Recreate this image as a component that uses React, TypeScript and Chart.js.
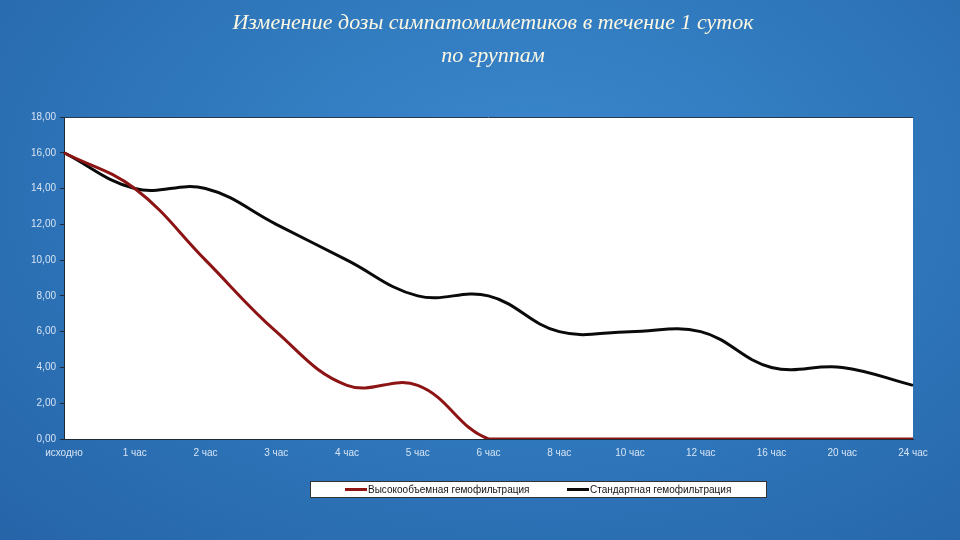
import React, { useEffect, useRef } from "react";
import { Chart, registerables } from "chart.js";

Chart.register(...registerables);

const titleLines = ["Изменение дозы симпатомиметиков в течение 1 суток", "по группам"];
const categories = ["исходно", "1 час", "2 час", "3 час", "4 час", "5 час", "6 час", "8 час", "10 час", "12 час", "16 час", "20 час", "24 час"];
const highVolume = [16, 14, 10, 6, 3, 3, 0, 0, 0, 0, 0, 0, 0];
const standard = [16, 14, 14, 12, 10, 8, 8, 6, 6, 6, 4, 4, 3];
const seriesLabels = ["Высокообъемная гемофильтрация", "Стандартная гемофильтрация"];
const seriesColors = ["#8c1414", "#0a0a0a"];
const yMin = 0;
const yMax = 18;
const yStep = 2;

const plotBgPlugin = {
  id: "plotBg",
  beforeDraw(chart: any) {
    const { ctx, chartArea } = chart;
    ctx.save();
    ctx.fillStyle = "#ffffff";
    ctx.fillRect(chartArea.left, chartArea.top, chartArea.right - chartArea.left, chartArea.bottom - chartArea.top);
    ctx.strokeStyle = "#2a3a4a";
    ctx.lineWidth = 1;
    ctx.beginPath();
    ctx.moveTo(chartArea.left, chartArea.top + 0.5);
    ctx.lineTo(chartArea.right, chartArea.top + 0.5);
    ctx.stroke();
    ctx.restore();
  },
};

const boxLegendPlugin = {
  id: "boxLegend",
  afterDraw(chart: any) {
    const { ctx } = chart;
    const bx = 310, by = 481, bw = 457, bh = 17;
    ctx.save();
    ctx.fillStyle = "#ffffff";
    ctx.fillRect(bx, by, bw, bh);
    ctx.strokeStyle = "#333333";
    ctx.lineWidth = 1;
    ctx.strokeRect(bx + 0.5, by + 0.5, bw - 1, bh - 1);
    const starts = [345, 567];
    ctx.font = "10px 'Liberation Sans', Arial, sans-serif";
    ctx.textBaseline = "middle";
    chart.data.datasets.forEach((ds: any, i: number) => {
      const x = starts[i];
      const y = by + bh / 2;
      ctx.strokeStyle = ds.borderColor;
      ctx.lineWidth = 3;
      ctx.beginPath();
      ctx.moveTo(x, y);
      ctx.lineTo(x + 22, y);
      ctx.stroke();
      ctx.fillStyle = "#111111";
      ctx.fillText(ds.label, x + 23, y + 0.5);
    });
    ctx.restore();
  },
};

export default function App() {
  const canvasRef = useRef<HTMLCanvasElement | null>(null);

  useEffect(() => {
    if (!canvasRef.current) return;
    const chart = new Chart(canvasRef.current, {
      type: "line",
      data: {
        labels: categories,
        datasets: [
          {
            label: seriesLabels[0],
            data: highVolume,
            borderColor: seriesColors[0],
            backgroundColor: seriesColors[0],
            borderWidth: 3,
            pointRadius: 0,
            tension: 0.4,
            fill: false,
          },
          {
            label: seriesLabels[1],
            data: standard,
            borderColor: seriesColors[1],
            backgroundColor: seriesColors[1],
            borderWidth: 3,
            pointRadius: 0,
            tension: 0.4,
            fill: false,
          },
        ],
      },
      options: {
        responsive: false,
        animation: false,
        devicePixelRatio: 1,
        layout: { padding: { left: 0, top: 117, right: 47, bottom: 79 } },
        plugins: {
          legend: { display: false },
          title: { display: false },
          tooltip: { enabled: false },
        },
        scales: {
          x: {
            type: "category",
            offset: false,
            border: { display: true, color: "#1e2a36", width: 1 },
            grid: { display: false, drawOnChartArea: false, drawTicks: false },
            ticks: {
              color: "#d6e4f4",
              font: { family: "'Liberation Sans', Arial, sans-serif", size: 10 },
              padding: 8,
              maxRotation: 0,
              autoSkip: false,
            },
            afterFit(scale: any) {
              scale.height = 22;
            },
          },
          y: {
            min: yMin,
            max: yMax,
            border: { display: true, color: "#1e2a36", width: 1 },
            grid: { drawOnChartArea: false, drawTicks: true, tickLength: 4, color: "#1e2a36" },
            ticks: {
              stepSize: yStep,
              color: "#d6e4f4",
              font: { family: "'Liberation Sans', Arial, sans-serif", size: 10 },
              padding: 4,
              callback: (v: any) => Number(v).toFixed(2).replace(".", ","),
            },
            afterFit(scale: any) {
              scale.width = 64;
            },
          },
        },
      },
      plugins: [plotBgPlugin, boxLegendPlugin],
    });
    return () => chart.destroy();
  }, []);

  return (
    <div
      style={{
        position: "fixed",
        left: 0,
        top: 0,
        width: 960,
        height: 540,
        overflow: "hidden",
        background: "radial-gradient(ellipse at 55% 35%, #3c89cf 0%, #3079bd 45%, #2664a8 100%)",
      }}
    >
      <div
        style={{
          position: "absolute",
          left: 13,
          top: 5,
          width: 960,
          textAlign: "center",
          fontFamily: "'Liberation Serif', 'DejaVu Serif', serif",
          fontStyle: "italic",
          fontSize: 22,
          lineHeight: "33px",
          color: "#fdf8e4",
        }}
      >
        {titleLines.map((t, i) => (
          <div key={i}>{t}</div>
        ))}
      </div>
      <canvas
        ref={canvasRef}
        width={960}
        height={540}
        style={{ position: "absolute", left: 0, top: 0, width: 960, height: 540 }}
      />
    </div>
  );
}
